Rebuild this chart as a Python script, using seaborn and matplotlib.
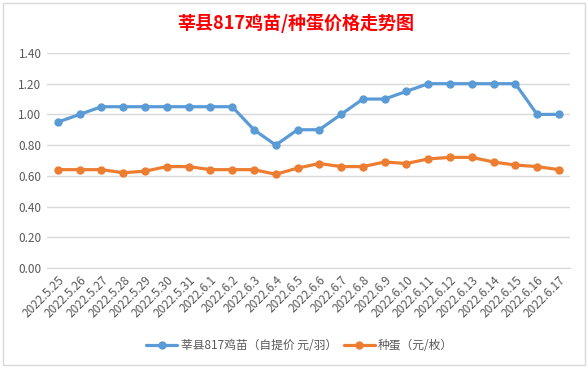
import pandas as pd
import numpy as np
import seaborn as sns
import matplotlib
matplotlib.use('Agg')
import matplotlib.pyplot as plt
from matplotlib.patches import Rectangle
from matplotlib.lines import Line2D

dates = ['2022.5.25', '2022.5.26', '2022.5.27', '2022.5.28', '2022.5.29', '2022.5.30',
         '2022.5.31', '2022.6.1', '2022.6.2', '2022.6.3', '2022.6.4', '2022.6.5',
         '2022.6.6', '2022.6.7', '2022.6.8', '2022.6.9', '2022.6.10', '2022.6.11',
         '2022.6.12', '2022.6.13', '2022.6.14', '2022.6.15', '2022.6.16', '2022.6.17']
chick = [0.95, 1.00, 1.05, 1.05, 1.05, 1.05, 1.05, 1.05, 1.05, 0.90, 0.80, 0.90,
         0.90, 1.00, 1.10, 1.10, 1.15, 1.20, 1.20, 1.20, 1.20, 1.20, 1.00, 1.00]
egg = [0.64, 0.64, 0.64, 0.62, 0.63, 0.66, 0.66, 0.64, 0.64, 0.64, 0.61, 0.65,
       0.68, 0.66, 0.66, 0.69, 0.68, 0.71, 0.72, 0.72, 0.69, 0.67, 0.66, 0.64]
series_names = ['莘县817鸡苗（自提价 元/羽）', '种蛋（元/枚）']
title = '莘县817鸡苗/种蛋价格走势图'
yticks = [0.0, 0.2, 0.4, 0.6, 0.8, 1.0, 1.2, 1.4]

sns.set_style('white')
plt.rcParams['font.family'] = ['Noto Sans CJK SC', 'DejaVu Sans']

df = pd.DataFrame({
    'pos': list(range(len(dates))) * 2,
    'price': chick + egg,
    'series': [series_names[0]] * len(dates) + [series_names[1]] * len(dates),
})
colors = {series_names[0]: '#5B9BD5', series_names[1]: '#ED7D31'}

fig = plt.figure(figsize=(5.88, 3.68), dpi=100)
ax = fig.add_axes([0.080, 0.272, 0.889, 0.584])

sns.lineplot(data=df, x='pos', y='price', hue='series', palette=colors,
             marker='o', markersize=6, markeredgewidth=0, linewidth=2.3,
             legend=False, ax=ax)

ax.set_xlim(-0.5, len(dates) - 0.5)
ax.set_ylim(0, 1.4)
ax.set_yticks(yticks)
ax.set_yticklabels(['%.2f' % v for v in yticks], color='#595959', fontsize=8.5)
ax.yaxis.grid(True, color='#D9D9D9', linewidth=1)
ax.set_xticks(range(len(dates)))
ax.set_xticklabels(dates, rotation=45, ha='right', rotation_mode='anchor',
                   color='#595959', fontsize=8.5)
ax.tick_params(axis='both', length=0, pad=4)
ax.set_xlabel('')
ax.set_ylabel('')
for s in ax.spines.values():
    s.set_visible(False)
ax.spines['bottom'].set_visible(True)
ax.spines['bottom'].set_color('#D9D9D9')

fig.text(0.502, 0.935, title, color='#FF0000', fontsize=13, fontweight='bold',
         ha='center', va='center')

handles = [Line2D([], [], color=colors[n], marker='o', markersize=6, linewidth=2.3,
                  markeredgewidth=0) for n in series_names]
fig.legend(handles, series_names, loc='center', bbox_to_anchor=(0.51, 0.06),
           ncol=2, frameon=False, fontsize=8.5, handlelength=2.6,
           columnspacing=0.6, handletextpad=0.3, labelcolor='#595959')

fig.patches.append(Rectangle((0.005, 0.008), 0.99, 0.985, transform=fig.transFigure,
                             fill=False, edgecolor='#D9D9D9', linewidth=1))

fig.savefig('out.png', dpi=100)
